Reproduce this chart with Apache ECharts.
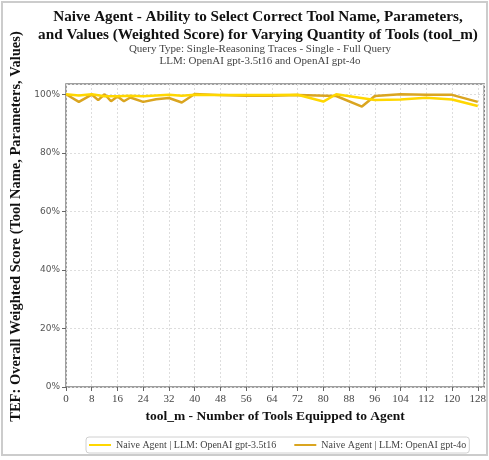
<!DOCTYPE html>
<html>
<head>
<meta charset="utf-8">
<script src="https://cdn.jsdelivr.net/npm/echarts@6/dist/echarts.min.js"></script>
<style>
    html, body { margin: 0; padding: 0; background: #fff; }
    #chart { width: 489px; height: 460px; }
</style>
</head>
<body>
<div id="chart"></div>
<script>
const SERIES_NAMES = ["Naive Agent | LLM: OpenAI gpt-3.5t16", "Naive Agent | LLM: OpenAI gpt-4o"];

// tool_m values and weighted scores (%)
const TOOLS_GPT35 = [0, 4, 8, 12, 16, 20, 24, 32, 36, 40, 48, 56, 64, 72, 80, 84, 96, 104, 112, 120, 128];
const SCORE_GPT35 = [100, 99.6, 100, 99.3, 99.3, 99.5, 99.3, 99.8, 99.5, 99.8, 99.7, 99.7, 99.7, 99.8, 97.5, 100, 98, 98.2, 98.8, 98.2, 96];

const TOOLS_GPT4O = [0, 4, 8, 10, 12, 14, 16, 18, 20, 24, 28, 32, 36, 40, 48, 56, 64, 72, 84, 92, 96, 104, 112, 120, 128];
const SCORE_GPT4O = [100, 97.4, 99.9, 98, 100, 97.6, 99.2, 97.6, 98.9, 97.4, 98.3, 98.7, 97.2, 100.1, 99.7, 99.5, 99.5, 99.7, 99.4, 95.8, 99.4, 100, 99.8, 99.8, 97.4];

const COLORS = ["#FFD700", "#DAA520"];

const chart = echarts.init(document.getElementById("chart"));

const zip = (xs, ys) => xs.map((x, i) => [x, ys[i]]);

chart.setOption({
    animation: false,
    graphic: [{
        type: "rect",
        shape: { x: 2, y: 2, width: 485, height: 453 },
        style: { fill: "none", stroke: "#cccccc", lineWidth: 2 },
        silent: true,
    }],
    title: [{
        text: "Naive Agent - Ability to Select Correct Tool Name, Parameters,\nand Values (Weighted Score) for Varying Quantity of Tools (tool_m)",
        left: 253,
        top: 3,
        textAlign: "center",
        textStyle: { fontFamily: "Liberation Serif", fontWeight: "bold", fontSize: 15.2, lineHeight: 18, color: "#111" },
    }, {
        text: "Query Type: Single-Reasoning Traces - Single - Full Query\nLLM: OpenAI gpt-3.5t16 and OpenAI gpt-4o",
        left: 255,
        top: 38,
        textAlign: "center",
        textStyle: { fontFamily: "Liberation Serif", fontWeight: "normal", fontSize: 11, lineHeight: 12, color: "#444" },
    }],
    legend: {
        data: SERIES_NAMES,
        bottom: 7,
        left: 86,
        itemWidth: 22,
        itemHeight: 2,
        itemGap: 18,
        icon: "rect",
        padding: [3, 3],
        borderColor: "#d0d0d0",
        borderWidth: 1,
        borderRadius: 3,
        textStyle: { fontFamily: "Liberation Serif", fontSize: 10, color: "#444" },
    },
    grid: {
        left: 66,
        right: 2,
        top: 84,
        bottom: 73,
        show: true,
        borderColor: "#808080",
        borderWidth: 1.5,
        backgroundColor: "transparent",
    },
    xAxis: {
        type: "value",
        min: 0,
        max: 130,
        interval: 8,
        name: "tool_m - Number of Tools Equipped to Agent",
        nameLocation: "middle",
        nameGap: 21,
        nameTextStyle: { fontFamily: "Liberation Serif", fontWeight: "bold", fontSize: 13.5, color: "#111" },
        axisLine: { show: false },
        axisTick: { show: true, length: 4, lineStyle: { color: "#666" } },
        axisLabel: { showMaxLabel: false, margin: 7, fontFamily: "Liberation Serif", fontSize: 11, color: "#444" },
        splitLine: { show: true, lineStyle: { color: "#dddddd", type: [2, 2] } },
    },
    yAxis: {
        type: "value",
        min: 0,
        max: 103.5,
        interval: 20,
        name: "TEF: Overall Weighted Score (Tool Name, Parameters, Values)",
        nameLocation: "middle",
        nameGap: 39,
        nameTextStyle: {
            fontFamily: "Liberation Serif",
            fontWeight: "bold",
            fontSize: 14.5,
            color: "#111",
            padding: [0, 0, 0, 18],
        },
        axisLine: { show: false },
        axisTick: { show: true, length: 4, lineStyle: { color: "#666" } },
        axisLabel: {
            showMaxLabel: false,
            margin: 6,
            fontFamily: "DejaVu Sans",
            fontSize: 9,
            color: "#555",
            formatter: (v) => v + "%",
        },
        splitLine: { show: true, lineStyle: { color: "#dddddd", type: [2, 2] } },
    },
    series: [{
        name: SERIES_NAMES[0],
        type: "line",
        data: zip(TOOLS_GPT35, SCORE_GPT35),
        showSymbol: false,
        color: COLORS[0],
        lineStyle: { width: 2.5, color: COLORS[0] },
        z: 3,
    }, {
        name: SERIES_NAMES[1],
        type: "line",
        data: zip(TOOLS_GPT4O, SCORE_GPT4O),
        showSymbol: false,
        color: COLORS[1],
        lineStyle: { width: 2.5, color: COLORS[1] },
        z: 2,
    }],
});
</script>
</body>
</html>
